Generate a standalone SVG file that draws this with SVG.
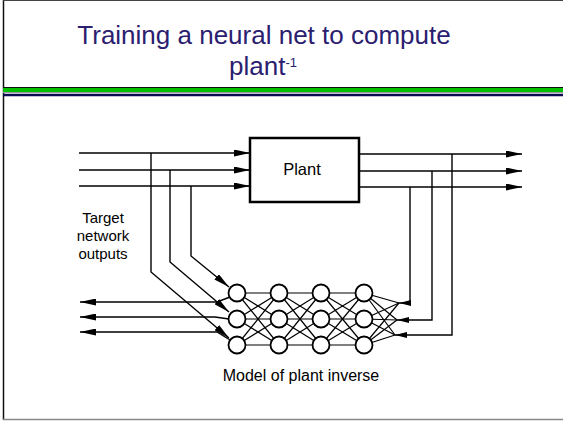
<svg xmlns="http://www.w3.org/2000/svg" width="563" height="424" viewBox="0 0 563 424">
<style>
.t{font-family:"Liberation Sans",Arial,sans-serif;fill:#000}
.ttl{font-family:"Liberation Sans",Arial,sans-serif;fill:#2b2070;font-size:26px}
.c{fill:none;stroke:#000;stroke-width:1.4;stroke-linejoin:miter}
.m{stroke:#000;stroke-width:1.2}
.n{fill:#fff;stroke:#000;stroke-width:1.8}
</style>
<defs>
<marker id="ah" viewBox="0 0 16 7" markerWidth="16" markerHeight="7" refX="16" refY="3.5" orient="auto" markerUnits="userSpaceOnUse"><path d="M0,0 L16,3.5 L0,7 z" fill="#000"/></marker>
<marker id="ahs" viewBox="0 0 12 6" markerWidth="12" markerHeight="6" refX="12" refY="3" orient="auto" markerUnits="userSpaceOnUse"><path d="M0,0 L12,3 L0,6 z" fill="#000"/></marker>
</defs>
<rect width="563" height="424" fill="#fff"/>
<g id="frame">
<line x1="3.5" y1="0" x2="3.5" y2="420" stroke="#111" stroke-width="1.5"/>
<line x1="3" y1="0.5" x2="563" y2="0.5" stroke="#444" stroke-width="1"/>
<line x1="3" y1="419.5" x2="563" y2="419.5" stroke="#888" stroke-width="1.5"/>
</g>
<g id="title">
<text class="ttl" x="264" y="43.5" text-anchor="middle">Training a neural net to compute</text>
<text class="ttl" x="263" y="74.5" text-anchor="middle">plant<tspan font-size="13" dy="-8">-1</tspan></text>
</g>
<g id="rules">
<rect x="3" y="87" width="560" height="5" fill="#00c000"/>
<line x1="3" y1="87.5" x2="563" y2="87.5" stroke="#111" stroke-width="1"/>
<line x1="3" y1="92.5" x2="563" y2="92.5" stroke="#999" stroke-width="1"/>
<line x1="3" y1="95" x2="563" y2="95" stroke="#0a0a50" stroke-width="2.5"/>
</g>
<g id="connectors">
<line class="c" x1="79" y1="153" x2="250" y2="153" marker-end="url(#ah)"/>
<line class="c" x1="79" y1="170" x2="250" y2="170" marker-end="url(#ah)"/>
<line class="c" x1="79" y1="186" x2="250" y2="186" marker-end="url(#ah)"/>
<line class="c" x1="359" y1="154" x2="522" y2="154" marker-end="url(#ah)"/>
<line class="c" x1="359" y1="171" x2="522" y2="171" marker-end="url(#ah)"/>
<line class="c" x1="359" y1="187" x2="522" y2="187" marker-end="url(#ah)"/>
<path class="c" d="M151,153 V272 L229,338" marker-end="url(#ah)"/>
<path class="c" d="M170,170 V262 L229,312" marker-end="url(#ah)"/>
<path class="c" d="M191,186 V256 L229,287" marker-end="url(#ah)"/>
<path class="c" d="M410,187 V303 H399" marker-end="url(#ahs)"/>
<path class="c" d="M432,171 V320 H397" marker-end="url(#ahs)"/>
<path class="c" d="M452,154 V335 H395" marker-end="url(#ahs)"/>
<path class="c" d="M230,297 L217,302 H80" marker-end="url(#ah)"/>
<path class="c" d="M229,319 L215,317 H80" marker-end="url(#ah)"/>
<path class="c" d="M230,340 L217,332 H80" marker-end="url(#ah)"/>
<g class="m">
<line x1="237" y1="293" x2="279" y2="293"/><line x1="237" y1="293" x2="279" y2="319"/><line x1="237" y1="293" x2="279" y2="345"/>
<line x1="237" y1="319" x2="279" y2="293"/><line x1="237" y1="319" x2="279" y2="319"/><line x1="237" y1="319" x2="279" y2="345"/>
<line x1="237" y1="345" x2="279" y2="293"/><line x1="237" y1="345" x2="279" y2="319"/><line x1="237" y1="345" x2="279" y2="345"/>
<line x1="279" y1="293" x2="321" y2="293"/><line x1="279" y1="293" x2="321" y2="319"/><line x1="279" y1="293" x2="321" y2="345"/>
<line x1="279" y1="319" x2="321" y2="293"/><line x1="279" y1="319" x2="321" y2="319"/><line x1="279" y1="319" x2="321" y2="345"/>
<line x1="279" y1="345" x2="321" y2="293"/><line x1="279" y1="345" x2="321" y2="319"/><line x1="279" y1="345" x2="321" y2="345"/>
<line x1="321" y1="293" x2="364" y2="293"/><line x1="321" y1="293" x2="364" y2="319"/><line x1="321" y1="293" x2="364" y2="345"/>
<line x1="321" y1="319" x2="364" y2="293"/><line x1="321" y1="319" x2="364" y2="319"/><line x1="321" y1="319" x2="364" y2="345"/>
<line x1="321" y1="345" x2="364" y2="293"/><line x1="321" y1="345" x2="364" y2="319"/><line x1="321" y1="345" x2="364" y2="345"/>
<line x1="364" y1="293" x2="399" y2="303"/><line x1="364" y1="293" x2="397" y2="320"/><line x1="364" y1="293" x2="395" y2="335"/>
<line x1="364" y1="319" x2="399" y2="303"/><line x1="364" y1="319" x2="397" y2="320"/><line x1="364" y1="319" x2="395" y2="335"/>
<line x1="364" y1="345" x2="399" y2="303"/><line x1="364" y1="345" x2="397" y2="320"/><line x1="364" y1="345" x2="395" y2="335"/>
</g>
</g>
<g id="plant">
<rect x="250" y="138" width="109" height="64" fill="#fff" stroke="#000" stroke-width="2.5"/>
<text class="t" x="302" y="175" font-size="16.5" text-anchor="middle">Plant</text>
</g>
<g id="n11"><circle class="n" cx="237" cy="293" r="8.5"/></g>
<g id="n12"><circle class="n" cx="237" cy="319" r="8.5"/></g>
<g id="n13"><circle class="n" cx="237" cy="345" r="8.5"/></g>
<g id="n21"><circle class="n" cx="279" cy="293" r="8.5"/></g>
<g id="n22"><circle class="n" cx="279" cy="319" r="8.5"/></g>
<g id="n23"><circle class="n" cx="279" cy="345" r="8.5"/></g>
<g id="n31"><circle class="n" cx="321" cy="293" r="8.5"/></g>
<g id="n32"><circle class="n" cx="321" cy="319" r="8.5"/></g>
<g id="n33"><circle class="n" cx="321" cy="345" r="8.5"/></g>
<g id="n41"><circle class="n" cx="364" cy="293" r="8.5"/></g>
<g id="n42"><circle class="n" cx="364" cy="319" r="8.5"/></g>
<g id="n43"><circle class="n" cx="364" cy="345" r="8.5"/></g>
<g id="labels">
<text class="t" font-size="15" text-anchor="middle"><tspan x="103" y="223">Target</tspan><tspan x="103" y="241">network</tspan><tspan x="103" y="258.5">outputs</tspan></text>
<text class="t" x="301" y="381" font-size="16" text-anchor="middle">Model of plant inverse</text>
</g>
</svg>
